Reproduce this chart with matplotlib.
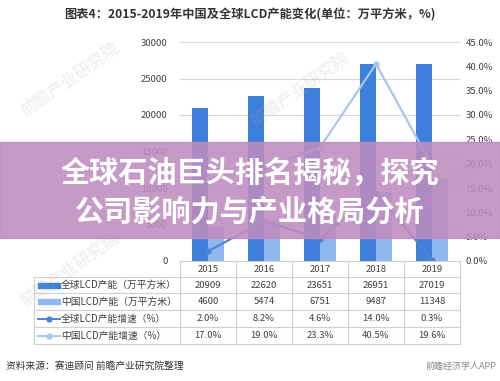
import matplotlib
matplotlib.use("Agg")
from matplotlib import pyplot as plt
from matplotlib.patches import Rectangle
from matplotlib.lines import Line2D
import matplotlib.transforms as mtrans

plt.rcParams['font.family'] = ['Noto Sans CJK SC', 'DejaVu Sans']

## データ
years = ['2015', '2016', '2017', '2018', '2019']
global_cap = [20909, 22620, 23651, 26951, 27019]
china_cap = [4600, 5474, 6751, 9487, 11348]
global_growth = [2.0, 8.2, 4.6, 14.0, 0.3]
china_growth = [17.0, 19.0, 23.3, 40.5, 19.6]
left_ticks = [0, 5000, 10000, 15000, 20000, 25000, 30000]
right_ticks = [0, 5, 10, 15, 20, 25, 30, 35, 40, 45]
row_labels = ['全球LCD产能（万平方米）', '中国LCD产能（万平方米）',
              '全球LCD产能增速（%）', '中国LCD产能增速（%）']

c_dark = '#3d7fdb'
c_light = '#8fb8ef'
c_gline = '#4f84d3'
c_cline = '#a8c6ee'
txt = '#404040'
grid_c = '#d9d9d9'

W, H = 500, 381
fig = plt.figure(figsize=(5.0, 3.81), dpi=100)

def fy(py):
    return 1 - py / H

def fx(px):
    return px / W

ax = fig.add_axes([fx(180), fy(261), fx(460) - fx(180), fy(42) - fy(261)])
x = list(range(len(years)))
bw = 0.28
ax.bar([i - bw / 2 for i in x], global_cap, bw, color=c_dark, zorder=2)
ax.bar([i + bw / 2 for i in x], china_cap, bw, color=c_light, zorder=2)
ax.set_xlim(-0.5, len(years) - 0.5)
ax.set_ylim(0, 30000)
ax.set_yticks(left_ticks)
ax.set_yticklabels([str(v) for v in left_ticks])
ax.yaxis.grid(True, color=grid_c, lw=0.8, zorder=0)
ax.set_xticks([])
for s in ['top', 'right', 'left', 'bottom']:
    ax.spines[s].set_visible(False)
ax.tick_params(axis='y', length=0, pad=9, labelsize=6.8, labelcolor=txt)

ax2 = ax.twinx()
ax2.plot(x, china_growth, color=c_cline, lw=1.6, marker='o', ms=3.5, zorder=3)
ax2.plot(x, global_growth, color=c_gline, lw=1.6, marker='o', ms=3.5, zorder=3)
ax2.set_ylim(0, 45)
ax2.set_yticks(right_ticks)
ax2.set_yticklabels(['%.1f%%' % v for v in right_ticks])
for s in ['top', 'right', 'left', 'bottom']:
    ax2.spines[s].set_visible(False)
ax2.tick_params(axis='y', length=0, pad=4, labelsize=6.8, labelcolor=txt)

# 表
tr = mtrans.blended_transform_factory(ax.transData, fig.transFigure)
row_lines = [261, 277, 293, 310, 327, 344]
tcol = '#d0d0d0'
for k, py in enumerate(row_lines):
    x0 = 180 if k == 0 else 34
    fig.add_artist(Line2D([fx(x0), fx(460)], [fy(py), fy(py)], color=tcol, lw=0.8))
for px in [180, 236, 292, 348, 404, 460]:
    fig.add_artist(Line2D([fx(px), fx(px)], [fy(261), fy(344)], color=tcol, lw=0.8))
fig.add_artist(Line2D([fx(34), fx(34)], [fy(277), fy(344)], color=tcol, lw=0.8))

rows = [global_cap, china_cap,
        ['%.1f%%' % v for v in global_growth],
        ['%.1f%%' % v for v in china_growth]]
for i, yr in enumerate(years):
    fig.text(i, fy(269), yr, transform=tr, ha='center', va='center', fontsize=6.8, color=txt)
centers = [285, 301.5, 318.5, 335.5]
for r, vals in enumerate(rows):
    for i, v in enumerate(vals):
        fig.text(i, fy(centers[r]), str(v), transform=tr, ha='center', va='center',
                 fontsize=6.8, color=txt)
    fig.text(fx(61), fy(centers[r]), row_labels[r], ha='left', va='center',
             fontsize=7, color=txt)

fig.add_artist(Rectangle((fx(38), fy(centers[0] + 2.5)), fx(22), 5 / H, color=c_dark))
fig.add_artist(Rectangle((fx(38), fy(centers[1] + 2.5)), fx(22), 5 / H, color=c_light))
fig.add_artist(Line2D([fx(38), fx(60)], [fy(centers[2])] * 2, color=c_gline, lw=1.4))
fig.add_artist(Line2D([fx(49)], [fy(centers[2])], color=c_gline, marker='o', ms=3.5))
fig.add_artist(Line2D([fx(38), fx(60)], [fy(centers[3])] * 2, color=c_cline, lw=1.4))
fig.add_artist(Line2D([fx(49)], [fy(centers[3])], color=c_cline, marker='o', ms=3.5))

# タイトル・出典
fig.text(0.5, fy(15), '图表4：2015-2019年中国及全球LCD产能变化(单位：万平方米，%)',
         ha='center', va='center', fontsize=8.8, fontweight='bold', color='#333333')
fig.text(fx(6), fy(366), '资料来源：赛迪顾问 前瞻产业研究院整理',
         ha='left', va='center', fontsize=7, color='#333333')
fig.text(fx(497), fy(366), '前瞻经济学人APP', ha='right', va='center',
         fontsize=6.5, color='#888888')

# 透かし
for (wx, wy) in [(70, 80), (300, 90), (70, 270), (430, 200)]:
    fig.text(fx(wx), fy(wy), '前瞻产业研究院', rotation=35, ha='center', va='center',
             fontsize=12, color='#b0b0b0', alpha=0.18, fontweight='bold')

# バナー
fig.add_artist(Rectangle((0, fy(238)), 1, (238 - 142) / H, color='#bf8cbf', alpha=0.88, zorder=5))
fig.text(0.5, fy(173), '全球石油巨头排名揭秘，探究', ha='center', va='center',
         fontsize=21, fontweight='bold', color='white', zorder=6)
fig.text(0.5, fy(212), '公司影响力与产业格局分析', ha='center', va='center',
         fontsize=21, fontweight='bold', color='white', zorder=6)

fig.savefig('out.png', dpi=100)
